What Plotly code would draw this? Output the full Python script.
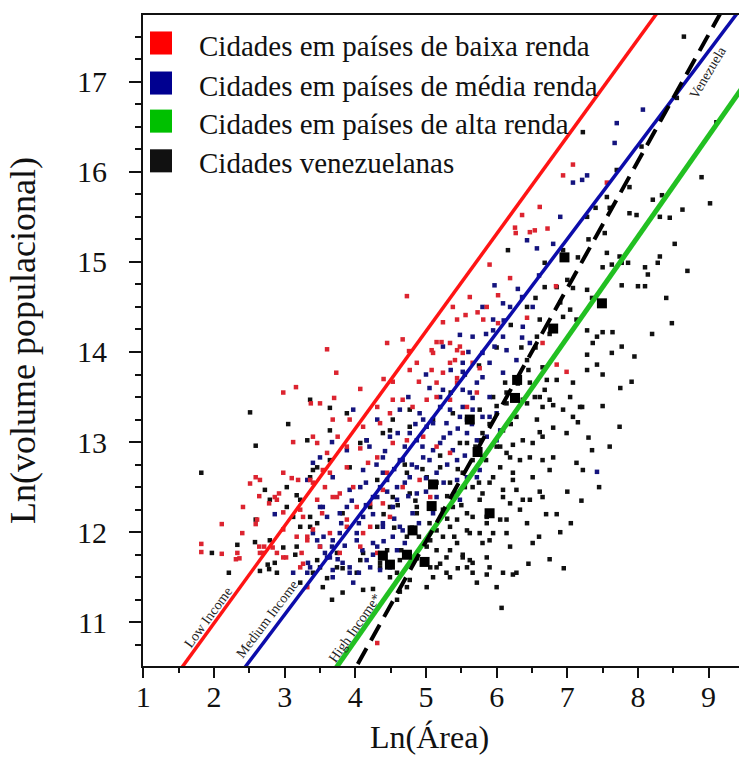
import plotly.graph_objects as go

# Ln(area) vs Ln(population) for cities, grouped by the income level of their country
low_income_pts = [
    (3.16, 13.61), (2.98, 13.55), (3.70, 13.49), (3.37, 13.43), (3.12, 13.00), (3.46, 12.99),
    (2.59, 12.61), (2.51, 12.54), (3.10, 12.60), (3.19, 12.58), (2.64, 12.40), (2.86, 12.39),
    (2.92, 12.43), (2.78, 12.32), (2.41, 12.28), (2.11, 12.09), (2.59, 12.09), (2.98, 12.22),
    (3.26, 12.17), (2.40, 11.99), (1.82, 11.87), (1.82, 11.78), (2.11, 11.76), (2.33, 11.77),
    (2.31, 11.70), (2.36, 11.71), (2.64, 11.84), (2.71, 11.84), (2.65, 11.77), (2.89, 11.77),
    (2.83, 11.83), (3.02, 11.72), (3.24, 11.77), (3.26, 11.65), (3.17, 11.95), (3.32, 11.95),
    (3.40, 12.03), (3.54, 12.69), (3.57, 12.50), (3.53, 12.21), (3.68, 12.39),
    (3.60, 14.03), (3.73, 13.77), (4.45, 14.10), (4.67, 14.14), (4.76, 14.01), (4.87, 13.88),
    (5.08, 14.02), (5.15, 14.11), (5.22, 14.11), (5.34, 14.10), (5.48, 14.06), (5.41, 13.91),
    (5.56, 14.41), (5.73, 14.44), (5.81, 14.36), (6.02, 14.32), (5.44, 14.36), (4.07, 13.59),
    (4.40, 13.70), (4.53, 13.67), (4.77, 13.80), (4.90, 13.67), (5.08, 13.80), (5.24, 13.77),
    (5.44, 13.66), (3.92, 13.25), (4.11, 13.17), (4.35, 13.21), (4.49, 13.32), (4.67, 13.47),
    (4.81, 13.39), (5.01, 13.47), (5.15, 13.50), (5.34, 13.47), (5.58, 13.39), (5.72, 13.55),
    (3.75, 13.06), (4.07, 12.93), (4.31, 12.83), (4.53, 12.99), (4.73, 13.02), (4.96, 13.06),
    (5.15, 12.95), (5.34, 12.88), (2.65, 12.58), (2.98, 12.66), (3.36, 12.58), (3.64, 12.66),
    (3.88, 12.72), (4.18, 12.77), (4.45, 12.66), (4.67, 12.50), (4.91, 12.58), (5.06, 12.39),
    (2.89, 12.36), (3.22, 12.25), (3.46, 12.36), (3.78, 12.43), (4.02, 12.28), (4.39, 12.32),
    (2.61, 12.14), (2.98, 12.03), (3.32, 11.91), (3.64, 11.99), (3.88, 12.14), (4.21, 12.06),
    (4.49, 12.17), (2.69, 11.77), (2.98, 11.72), (3.50, 11.84), (3.78, 11.77), (4.07, 11.84),
    (4.31, 11.77), (3.22, 11.61),
    (7.08, 16.08), (6.94, 15.96), (7.56, 15.88), (6.61, 15.61), (6.36, 15.52), (6.26, 15.38),
    (6.27, 15.32), (6.47, 15.33), (6.54, 15.35), (6.72, 15.37), (5.90, 14.97), (6.19, 14.82),
    (5.62, 14.61), (5.86, 14.50), (5.38, 14.50), (5.24, 14.33), (6.02, 14.63), (6.43, 14.38),
    (6.84, 14.73), (5.44, 14.02), (5.10, 13.99), (5.34, 13.88), (5.52, 13.99), (5.66, 13.88),
    (5.76, 13.82), (6.99, 13.78), (6.85, 13.86), (6.65, 14.10), (5.15, 13.66), (5.44, 13.71),
    (4.31, 10.77), (3.32, 11.39), (4.73, 14.62),
    (3.50, 13.43), (3.68, 13.25), (3.40, 13.06), (3.88, 12.95), (3.60, 12.88), (3.40, 12.55),
    (3.74, 12.39), (3.97, 12.50), (4.21, 12.32), (4.39, 12.47), (4.11, 11.99), (3.88, 12.06),
    (4.31, 13.39), (4.53, 13.47),
]

medium_income_pts = [
    (3.67, 13.00), (2.86, 12.20), (3.40, 12.77), (3.54, 12.28), (3.12, 11.55), (3.32, 11.55),
    (3.57, 11.77), (3.67, 11.84), (6.09, 14.54), (5.95, 14.36), (6.09, 14.17), (6.14, 14.02),
    (5.80, 13.99), (5.52, 13.78), (5.80, 13.72), (6.09, 13.77), (5.62, 13.55), (5.90, 13.50),
    (5.34, 13.36), (5.58, 13.25), (5.90, 13.28), (5.10, 13.21), (5.34, 13.10), (5.72, 13.02),
    (6.00, 13.02), (4.87, 13.02), (5.10, 12.91), (5.44, 12.80), (5.80, 12.83), (4.63, 12.80),
    (4.87, 12.72), (5.15, 12.66), (5.44, 12.58), (5.72, 12.61), (4.39, 12.66), (4.59, 12.50),
    (4.87, 12.43), (5.15, 12.39), (5.48, 12.36), (4.07, 12.50), (4.31, 12.39), (4.53, 12.28),
    (4.81, 12.21), (5.10, 12.21), (3.88, 12.28), (4.11, 12.17), (4.39, 12.06), (4.67, 12.02),
    (3.60, 12.17), (3.78, 11.99), (4.02, 11.91), (4.31, 11.84), (4.59, 11.80), (3.46, 11.91),
    (3.64, 11.72), (3.92, 11.61), (4.21, 11.61), (4.49, 11.61), (3.68, 11.50), (3.97, 11.44),
    (3.36, 11.61), (6.37, 14.28), (6.47, 14.10), (6.28, 13.91), (5.24, 13.58), (4.96, 13.25),
    (7.08, 15.88), (7.21, 15.91), (7.28, 15.96), (6.43, 15.24), (6.57, 15.15), (5.97, 14.74),
    (6.36, 14.61), (5.80, 14.50), (6.19, 14.50), (6.51, 14.50), (5.95, 14.24), (5.48, 14.19),
    (5.66, 14.17), (6.36, 14.16), (5.24, 14.06), (5.97, 14.06), (5.52, 13.88), (5.90, 13.88),
    (5.52, 13.58), (5.72, 13.66), (5.20, 13.50), (5.52, 13.39), (5.66, 13.49), (5.80, 13.28),
    (6.00, 13.32), (5.29, 13.21), (5.48, 13.28), (7.70, 16.54), (7.67, 16.32), (8.07, 16.69),
    (3.33, 11.66), (3.97, 13.36), (4.31, 13.25), (4.63, 13.36), (4.91, 13.32), (5.20, 13.39),
    (5.01, 13.17), (4.77, 13.10), (4.49, 13.06), (4.16, 13.02), (3.88, 12.91), (5.20, 12.99),
    (5.38, 12.91), (5.58, 13.10), (4.39, 12.83), (4.67, 12.80), (4.96, 12.83), (4.11, 12.69),
    (4.45, 12.58), (4.77, 12.61), (3.68, 12.61), (3.92, 12.47), (4.25, 12.39), (4.59, 12.36),
    (3.50, 12.28), (3.78, 12.21), (4.39, 12.10), (4.63, 12.06), (3.40, 11.99), (3.68, 11.91),
    (4.02, 11.99), (4.25, 11.88), (4.53, 11.95), (3.60, 11.72), (3.82, 11.66), (4.16, 11.69),
    (4.35, 11.58), (3.92, 11.55), (3.68, 11.58), (3.50, 11.84), (3.32, 12.58), (3.50, 12.83),
    (5.58, 12.61), (5.44, 12.43), (5.76, 12.69), (5.66, 13.36), (5.86, 13.06), (6.05, 13.13),
    (7.42, 12.67),
    (4.20, 12.95), (4.42, 12.90), (4.70, 12.95), (4.95, 12.95), (5.25, 13.05), (5.45, 13.15),
    (5.65, 13.20), (4.30, 12.75), (4.55, 12.70), (4.80, 12.75), (5.05, 12.80), (5.30, 12.75),
    (5.55, 12.85), (4.15, 12.55), (4.35, 12.50), (4.70, 12.55), (5.00, 12.60), (5.25, 12.55),
    (3.95, 12.35), (4.15, 12.30), (4.45, 12.45), (4.75, 12.40), (5.00, 12.45), (3.80, 12.10),
    (4.05, 12.10), (4.25, 12.20), (4.55, 12.15), (4.90, 12.10), (3.55, 11.95), (3.85, 11.85),
    (4.10, 11.80), (4.40, 11.90), (4.70, 11.88), (3.75, 11.70), (4.05, 11.55), (4.25, 11.75),
    (5.05, 13.60), (5.35, 13.80), (5.60, 14.00), (5.85, 14.20), (6.10, 14.35), (6.30, 14.70),
    (6.60, 14.85), (6.80, 15.20), (6.90, 15.50), (4.75, 13.50), (5.00, 13.75), (4.60, 13.10),
    (4.85, 13.20),
]

high_income_pts = [
    (2.51, 13.33), (3.05, 13.20), (2.59, 12.96), (1.82, 12.66), (3.32, 13.02), (3.64, 13.38),
    (2.72, 12.47), (3.17, 12.41), (2.59, 12.14), (2.33, 11.86), (1.97, 11.77), (2.21, 11.55),
    (2.58, 11.89), (2.78, 11.59), (2.86, 11.66), (2.65, 11.57), (2.98, 11.83), (3.15, 11.75),
    (3.36, 12.61), (3.03, 12.28), (3.36, 12.06), (6.43, 14.50), (6.61, 14.36), (6.57, 14.17),
    (6.43, 13.91), (6.65, 13.83), (6.14, 13.55), (6.37, 13.47), (6.61, 13.50), (6.28, 13.28),
    (6.57, 13.25), (6.09, 13.13), (6.37, 13.02), (6.65, 13.06), (6.19, 12.83), (6.47, 12.83),
    (6.65, 12.80), (5.95, 12.61), (6.23, 12.58), (6.51, 12.61), (5.80, 12.43), (6.09, 12.39),
    (6.37, 12.36), (6.65, 12.39), (5.58, 12.21), (5.86, 12.17), (6.14, 12.14), (6.43, 12.10),
    (5.34, 12.06), (5.62, 11.99), (5.90, 11.91), (6.19, 11.84), (6.51, 11.88), (5.06, 11.91),
    (5.34, 11.80), (5.62, 11.69), (5.90, 11.61), (6.28, 11.55), (4.77, 11.77), (5.06, 11.61),
    (5.34, 11.50), (5.72, 11.44), (6.00, 11.39), (4.49, 11.50), (4.73, 11.39), (3.36, 13.47),
    (3.88, 13.32), (3.64, 13.13), (4.16, 13.02), (4.49, 13.13), (4.77, 13.17), (3.03, 12.50),
    (3.46, 12.72), (3.92, 12.72), (4.31, 12.58), (4.73, 12.66), (2.79, 12.36), (3.12, 12.17),
    (3.46, 12.10), (3.82, 12.21), (4.21, 12.28), (4.53, 12.39), (4.87, 12.28), (2.79, 11.91),
    (3.17, 11.84), (3.46, 11.69), (3.74, 11.61), (4.07, 11.69), (4.35, 11.66), (4.63, 11.69),
    (2.89, 11.55), (3.22, 11.44), (3.54, 11.39), (3.82, 11.33), (4.11, 11.36), (5.15, 12.02),
    (5.38, 12.28), (5.80, 13.10), (5.58, 12.99), (5.52, 12.66), (5.15, 12.55),
    (7.70, 16.02), (7.88, 15.54), (7.98, 15.52), (8.21, 15.69), (8.34, 15.74), (8.63, 15.58),
    (8.90, 15.94), (9.02, 15.65), (8.31, 15.50), (8.45, 15.49), (8.52, 15.20), (8.31, 15.06),
    (8.28, 14.99), (8.10, 14.94), (8.14, 14.86), (8.00, 14.73), (8.10, 14.73), (7.77, 14.74),
    (7.86, 14.99), (7.77, 14.99), (7.74, 15.06), (7.63, 14.97), (7.50, 14.94), (7.56, 15.10),
    (7.28, 15.50), (7.53, 15.32), (7.56, 15.72), (7.60, 15.60), (8.48, 14.32), (7.91, 13.67),
    (6.16, 15.13), (6.68, 14.99), (6.94, 15.13), (6.68, 14.72), (6.85, 14.72), (7.08, 14.71),
    (7.28, 14.69), (7.35, 14.60), (6.94, 14.39), (7.04, 14.47), (7.13, 14.36), (7.28, 14.24),
    (7.42, 14.17), (7.50, 14.22), (7.64, 14.22), (7.77, 14.06), (7.63, 13.99), (7.36, 14.10),
    (7.28, 13.97), (7.42, 13.86), (7.28, 13.80), (7.08, 13.66), (6.85, 13.69), (7.04, 13.50),
    (7.21, 13.39), (6.94, 13.36), (6.75, 13.47), (6.68, 13.58), (6.54, 13.50), (6.47, 13.66),
    (6.71, 13.69), (6.43, 13.43), (7.08, 13.28), (7.74, 13.17), (6.12, 13.66), (6.14, 13.43),
    (5.95, 13.50), (6.65, 13.39), (6.80, 13.41), (7.18, 13.39), (7.15, 13.22), (6.61, 13.11),
    (6.80, 13.16), (6.99, 13.10), (6.51, 12.99), (6.23, 12.97), (6.14, 12.88), (6.33, 12.80),
    (6.80, 12.83), (7.35, 12.91), (7.13, 12.77), (7.22, 12.69), (6.05, 12.72), (6.23, 12.66),
    (6.75, 12.69), (5.90, 12.55), (6.09, 12.47), (6.28, 12.47), (6.47, 12.36), (6.61, 12.45),
    (5.76, 12.36), (6.19, 12.32), (6.33, 12.25), (5.66, 12.17), (5.86, 12.10), (6.05, 12.14),
    (5.58, 12.02), (5.76, 11.99), (5.95, 11.99), (6.14, 11.99), (5.44, 11.88), (5.80, 11.88),
    (5.29, 11.72), (5.52, 11.72), (5.66, 11.66), (5.86, 11.72), (5.15, 11.61), (5.58, 11.61),
    (5.10, 11.50), (5.29, 11.55), (5.66, 11.55), (5.86, 11.53), (6.09, 11.55), (6.23, 11.53),
    (5.01, 11.39), (4.77, 11.47), (4.59, 11.55), (6.07, 11.16), (3.67, 11.25), (4.25, 11.37),
    (4.59, 11.25), (4.63, 11.34), (2.76, 11.64), (3.40, 11.55), (3.60, 11.49), (3.82, 11.60),
    (4.02, 11.55), (4.35, 11.61), (4.87, 11.71), (5.52, 11.75), (8.65, 17.50), (7.22, 16.44),
    (8.05, 16.28), (9.11, 16.55), (7.88, 15.83), (8.55, 16.82),
    (3.40, 12.69), (3.64, 12.80), (4.07, 12.99), (4.39, 13.10), (4.53, 13.25), (4.77, 13.36),
    (5.10, 13.25), (5.38, 13.32), (5.76, 13.36), (5.48, 12.99), (5.76, 13.02), (6.00, 12.95),
    (5.66, 12.80), (5.20, 12.72), (5.01, 12.61), (5.34, 12.55), (5.66, 12.50), (4.77, 12.43),
    (4.49, 12.28), (4.87, 12.21), (5.24, 12.25), (5.44, 12.14), (4.31, 12.06), (4.73, 11.95),
    (5.01, 11.84), (5.24, 11.95), (4.45, 11.80), (4.11, 11.77), (3.74, 11.77), (3.50, 11.61),
    (3.22, 12.06), (3.22, 12.36), (3.36, 12.17),
    (4.40, 12.20), (4.60, 12.30), (4.85, 12.35), (5.05, 12.30), (5.30, 12.40), (5.55, 12.50),
    (5.75, 12.55), (4.55, 12.05), (4.80, 12.05), (5.05, 12.10), (5.30, 12.15), (5.50, 12.30),
    (4.65, 11.80), (4.90, 11.95), (5.15, 11.80), (5.40, 11.95), (4.95, 11.70), (5.20, 11.65),
    (5.45, 11.60), (4.70, 12.75), (4.95, 12.70), (5.20, 12.85), (5.45, 12.70), (5.70, 12.95),
    (5.90, 13.20), (6.00, 13.40), (5.85, 12.80), (6.05, 12.95), (6.20, 13.20), (6.30, 13.65),
    (6.45, 13.80), (6.55, 14.05), (6.75, 14.20), (6.90, 14.55), (7.00, 14.80), (7.15, 15.05),
    (7.30, 15.25), (7.40, 15.60), (5.35, 13.55), (5.55, 13.75), (5.75, 13.85), (6.00, 14.05),
    (6.20, 14.30), (6.35, 14.05), (6.55, 14.60),
    (6.85, 12.20), (7.00, 12.45), (6.90, 12.00), (7.05, 12.10), (6.75, 11.70), (6.95, 11.60),
    (7.20, 12.35), (7.45, 12.50), (7.60, 12.95), (7.50, 13.40), (7.75, 13.60), (7.95, 13.95),
    (8.20, 14.20), (8.40, 14.60), (8.70, 14.90), (6.45, 11.65), (6.60, 11.95), (6.70, 12.20),
    (7.30, 13.05), (7.50, 13.75),
]

venezuela_pts = [
    (6.96, 15.05), (7.49, 14.54), (6.80, 14.26), (6.29, 13.69), (6.26, 13.49), (5.62, 13.25),
    (5.73, 12.89), (5.10, 12.53), (5.08, 12.29), (5.90, 12.21), (4.81, 12.02), (4.73, 11.75),
    (4.49, 11.64), (4.98, 11.67), (4.39, 11.74),
]

# Fitted lines: Ln(pop) = intercept + slope * Ln(area)
fit_labels = ["Low Income", "Medium Income", "High Income*", "Venezuela"]
fit_intercepts = [8.83, 7.96, 6.32, 4.86]
fit_slopes = [1.08, 1.042, 1.12, 1.407]
fit_colors = ["#ff1414", "#0c0caa", "#22c022", "#000000"]
fit_widths = [3.5, 3.5, 5, 4]
fit_dashes = ["solid", "solid", "solid", "dash"]
label_pos = [(1.92, 11.05), (2.75, 11.03), (3.99, 10.93), (8.99, 17.10)]
label_angles = [-54, -53, -55, -59]

legend_names = [
    "Cidades em países de baixa renda",
    "Cidades em países de média renda",
    "Cidades em países de alta renda",
    "Cidades venezuelanas",
]
legend_colors = ["#ff0000", "#000090", "#00c000", "#111111"]

serif = "Liberation Serif, Times New Roman, serif"

fig = go.Figure()


def add_points(pts, color, size, name):
    fig.add_trace(go.Scatter(
        x=[p[0] for p in pts], y=[p[1] for p in pts], mode="markers", name=name,
        marker=dict(symbol="square", size=size, color=color, line=dict(width=0)),
        showlegend=False, hoverinfo="x+y",
    ))


add_points(high_income_pts, "#111111", 4.5, "alta renda")
add_points(medium_income_pts, "#14147e", 4.5, "média renda")
add_points(low_income_pts, "#dc2430", 4.5, "baixa renda")

x_ends = [0.5, 9.6]
for name, a, b, c, w, d in zip(fit_labels, fit_intercepts, fit_slopes, fit_colors, fit_widths, fit_dashes):
    fig.add_trace(go.Scatter(
        x=x_ends, y=[a + b * xe for xe in x_ends], mode="lines", name=name,
        line=dict(color=c, width=w, dash="18px,9px" if d == "dash" else d),
        showlegend=False, hoverinfo="skip",
    ))

add_points(venezuela_pts, "#000000", 10, "Venezuela")

annotations = []
for text, (lx, ly), ang in zip(fit_labels, label_pos, label_angles):
    annotations.append(dict(
        x=lx, y=ly, xref="x", yref="y", text=text,
        showarrow=False, textangle=ang, font=dict(family=serif, size=14, color="#222222"),
    ))

# Legend drawn as colour swatches with text beside them
row_y = [0.957, 0.8955, 0.837, 0.776]
shapes = []
for name, col, ry in zip(legend_names, legend_colors, row_y):
    shapes.append(dict(
        type="rect", xref="paper", yref="paper", x0=0.0117, x1=0.0487,
        y0=ry - 0.0177, y1=ry + 0.0177, fillcolor=col, line=dict(width=0),
    ))
    annotations.append(dict(
        x=0.0906, y=ry - 0.004, xref="paper", yref="paper", text=name, showarrow=False,
        xanchor="left", yanchor="middle", font=dict(family=serif, size=29, color="#111111"),
    ))

# x-axis title
annotations.append(dict(
    x=0.4815, y=-0.109, xref="paper", yref="paper", text="Ln(Área)", showarrow=False,
    xanchor="center", yanchor="middle", font=dict(family=serif, size=32, color="#111111"),
))

fig.update_layout(
    width=739, height=758,
    margin=dict(l=143, r=0, t=15, b=92),
    paper_bgcolor="white", plot_bgcolor="white",
    font=dict(family=serif, color="#111111"),
    shapes=shapes, annotations=annotations,
    xaxis=dict(
        range=[0.995, 9.43], dtick=1, tick0=0, showgrid=False, zeroline=False,
        showline=True, linecolor="#111111", linewidth=2, mirror=True,
        ticks="outside", ticklen=10, tickwidth=2, tickcolor="#111111",
        tickfont=dict(family=serif, size=30), ticklabelstandoff=-7,
        minor=dict(dtick=0.5, ticks="outside", ticklen=5, tickwidth=2, tickcolor="#111111"),
    ),
    yaxis=dict(
        range=[10.515, 17.74], dtick=1, tick0=0, showgrid=False, zeroline=False,
        showline=True, linecolor="#111111", linewidth=2,
        ticks="outside", ticklen=12, tickwidth=2, tickcolor="#111111",
        tickfont=dict(family=serif, size=30), ticklabelstandoff=16,
        minor=dict(dtick=0.25, ticks="outside", ticklen=6, tickwidth=2, tickcolor="#111111"),
        title=dict(text="Ln(volume populacional)", font=dict(family=serif, size=36), standoff=30),
    ),
)

fig.write_html("out.html")
